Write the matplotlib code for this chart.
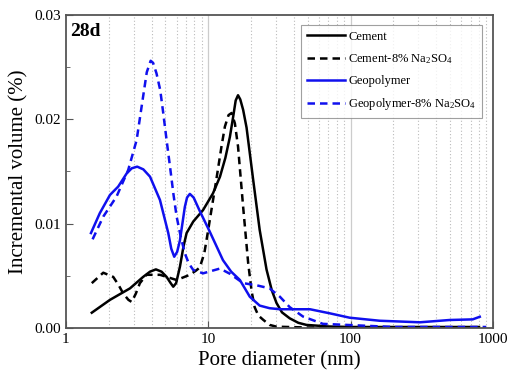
import matplotlib
matplotlib.use('Agg')
import matplotlib.pyplot as plt
from matplotlib.ticker import FixedLocator, MultipleLocator, FormatStrFormatter, NullFormatter

plt.rcParams['font.family'] = ['Liberation Serif', 'DejaVu Serif']
plt.rcParams['mathtext.fontset'] = 'custom'
plt.rcParams['mathtext.rm'] = 'Liberation Serif'
plt.rcParams['mathtext.it'] = 'Liberation Serif:italic'

# Cement
cem_d = [1.52, 2.04, 2.82, 3.49, 3.9, 4.29, 4.7, 5.1, 5.45, 5.68, 5.95, 6.33, 6.7, 7.05, 7.85,
         9.2, 10.8, 12.1, 13.2, 14.2, 15.0, 15.6, 16.2, 16.8, 17.6, 18.6, 20.7, 23, 25.7, 28,
         30.2, 33, 37.4, 43, 49, 70, 100, 200, 500, 800]
cem_v = [0.00147, 0.0027, 0.0038, 0.0049, 0.0054, 0.00562, 0.0054, 0.0049, 0.0043, 0.00396,
         0.0043, 0.00588, 0.0078, 0.0091, 0.0102, 0.0113, 0.0129, 0.0145, 0.0163, 0.0183,
         0.0203, 0.0218, 0.0223, 0.0219, 0.0209, 0.0192, 0.0142, 0.0094, 0.0056, 0.0036,
         0.0024, 0.0015, 0.00093, 0.0005, 0.0003, 0.00015, 0.0001, 0.0001, 0.0001, 0.0001]

# Cement-8% Na2SO4
cems_d = [1.52, 1.83, 2.15, 2.35, 2.53, 2.75, 2.9, 3.1, 3.31, 3.69, 4.58, 6.0, 7.43, 8.2, 8.73,
          9.4, 10.0, 11.4, 12.4, 13.1, 13.9, 14.6, 15.4, 16.2, 17.6, 19.1, 20.2, 21.2, 22.5,
          24.3, 27, 30.2, 50, 100, 300, 800]
cems_v = [0.0043, 0.0053, 0.0049, 0.0041, 0.0033, 0.0027, 0.0025, 0.0033, 0.0043, 0.0051,
          0.0051, 0.0046, 0.0051, 0.0055, 0.0058, 0.0072, 0.0094, 0.0142, 0.0174, 0.0193,
          0.0204, 0.0206, 0.0196, 0.0174, 0.0116, 0.0062, 0.0035, 0.002, 0.0012, 0.0008,
          0.0003, 0.00013, 0.00005, 0.00005, 0.00005, 0.00005]

# Geopolymer
geo_d = [1.5, 1.73, 2.04, 2.33, 2.67, 2.9, 3.17, 3.5, 3.9, 4.58, 5.24, 5.5, 5.77, 6.05, 6.33,
         6.85, 7.1, 7.43, 7.9, 8.73, 10.2, 12.7, 14.5, 16.7, 19.6, 23, 27, 31.9, 40, 51.9,
         71.5, 98.6, 160, 307, 497, 722, 810]
geo_v = [0.0091, 0.011, 0.01275, 0.01355, 0.0148, 0.0153, 0.01546, 0.0152, 0.0145, 0.01227,
         0.0091, 0.0076, 0.00683, 0.0073, 0.0084, 0.0116, 0.0125, 0.01285, 0.0125, 0.0112,
         0.0093, 0.0065, 0.0054, 0.0046, 0.003, 0.00215, 0.0019, 0.0018, 0.0018, 0.0018,
         0.00141, 0.00099, 0.0007, 0.00055, 0.00077, 0.00083, 0.00108]

# Geopolymer-8% Na2SO4
geos_d = [1.54, 1.83, 2.27, 2.74, 3.14, 3.49, 3.7, 3.94, 4.1, 4.33, 4.6, 4.83, 5.1, 5.39, 5.7,
          6.0, 6.4, 6.85, 7.3, 7.85, 9.2, 12.1, 14.2, 17.6, 21.8, 27, 31.9, 37.4, 46.4, 64,
          94, 200, 500, 900]
geos_v = [0.0085, 0.01067, 0.0126, 0.01514, 0.018, 0.0222, 0.0245, 0.0256, 0.0254, 0.0244,
          0.0228, 0.0206, 0.018, 0.01546, 0.0128, 0.01067, 0.0088, 0.00716, 0.0062, 0.00556,
          0.00524, 0.0057, 0.0052, 0.0043, 0.0041, 0.0038, 0.003, 0.002, 0.0011, 0.0004,
          0.0003, 0.0001, 0.0001, 0.0001]

labels = ['Cement', 'Cement-8% Na$_2$SO$_4$', 'Geopolymer', 'Geopolymer-8% Na$_2$SO$_4$']

fig = plt.figure(figsize=(5.07, 3.81), dpi=100)
ax = fig.add_axes([0.130, 0.139, 0.842, 0.822])

# vertical grid
for dec in [1, 10, 100]:
    for m in range(2, 10):
        ax.axvline(dec * m, color='#bbbbbb', lw=0.8, ls=(0, (1, 2)), zorder=0)
for g in [10, 100]:
    ax.axvline(g, color='#cccccc', lw=0.9, zorder=0)

ax.plot(cem_d, cem_v, color='black', lw=1.8, label=labels[0])
ax.plot(cems_d, cems_v, color='black', lw=1.8, ls=(0, (3, 2)), label=labels[1])
ax.plot(geo_d, geo_v, color='#1010ee', lw=1.8, label=labels[2])
ax.plot(geos_d, geos_v, color='#1010ee', lw=1.8, ls=(0, (3, 2)), label=labels[3])

ax.set_xscale('log')
ax.set_xlim(1, 1000)
ax.set_ylim(0, 0.03)
ax.xaxis.set_major_locator(FixedLocator([1, 10, 100, 1000]))
ax.xaxis.set_major_formatter(FormatStrFormatter('%g'))
ax.xaxis.set_minor_formatter(NullFormatter())
ax.yaxis.set_major_locator(MultipleLocator(0.01))
ax.yaxis.set_minor_locator(MultipleLocator(0.005))
ax.yaxis.set_major_formatter(FormatStrFormatter('%.2f'))
ax.tick_params(which='both', direction='in', labelsize=11, color='#555555')
ax.tick_params(which='major', length=5)
ax.tick_params(which='minor', length=3)
ax.tick_params(axis='x', which='minor', length=0)
for s in ax.spines.values():
    s.set_color('#555555')
    s.set_linewidth(1.3)

ax.set_xlabel('Pore diameter (nm)', fontsize=15)
ax.set_ylabel('Incremental volume (%)', fontsize=15)
ax.text(0.01, 0.975, '28d', transform=ax.transAxes, fontsize=14, fontweight='bold',
        va='top', ha='left')

leg = ax.legend(loc='upper right', bbox_to_anchor=(0.975, 0.968), fontsize=9.0,
                frameon=True, fancybox=False, edgecolor='#888888', handlelength=3.0,
                handletextpad=0.3, borderpad=0.45, labelspacing=0.75, borderaxespad=0)
leg.get_frame().set_linewidth(0.8)

fig.savefig('out.png', dpi=100)
